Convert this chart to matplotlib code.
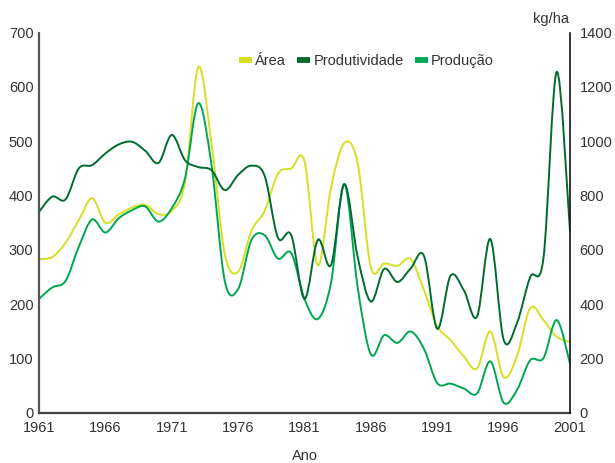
import numpy as np
import matplotlib
matplotlib.use("Agg")
import matplotlib.pyplot as plt
from matplotlib.path import Path
from matplotlib.patches import PathPatch
from matplotlib.lines import Line2D

plt.rcParams['font.family'] = ['Liberation Sans', 'DejaVu Sans']

years = list(range(1961, 2002))
area = [283, 287, 313, 355, 395, 350, 365, 378, 383, 366,
        372, 425, 636, 495, 292, 260, 335, 372, 440, 450,
        463, 272, 415, 497, 460, 268, 275, 271, 283, 226,
        160, 134, 104, 82, 150, 66, 104, 193, 171, 140,
        131]
producao = [210, 231, 243, 306, 356, 332, 358, 373, 380, 352,
            377, 432, 570, 455, 242, 228, 318, 327, 284, 294,
            210, 173, 240, 421, 232, 108, 143, 129, 150, 118,
            55, 54, 45, 36, 95, 19, 42, 97, 101, 171,
            91]
produtividade = [740, 796, 786, 900, 912, 955, 988, 998, 965, 920,
                 1023, 930, 905, 893, 820, 876, 910, 872, 645, 655,
                 420, 637, 545, 842, 575, 410, 530, 482, 532, 578,
                 310, 505, 452, 355, 640, 270, 330, 500, 570, 1255,
                 670]
xticks = [1961, 1966, 1971, 1976, 1981, 1986, 1991, 1996, 2001]
left_ticks = [0, 100, 200, 300, 400, 500, 600, 700]
right_ticks = [0, 200, 400, 600, 800, 1000, 1200, 1400]
labels = ['Área', 'Produtividade', 'Produção']
colors = ['#d7df23', '#006b2e', '#00a651']

assert len(area) == len(years) == len(producao) == len(produtividade)


def smooth_path(x, y):
    x = np.asarray(x, float)
    y = np.asarray(y, float)
    n = len(x)
    verts = [(x[0], y[0])]
    codes = [Path.MOVETO]
    for i in range(n - 1):
        i0 = max(i - 1, 0)
        i3 = min(i + 2, n - 1)
        c1 = (x[i] + (x[i + 1] - x[i0]) / 6, y[i] + (y[i + 1] - y[i0]) / 6)
        c2 = (x[i + 1] - (x[i3] - x[i]) / 6, y[i + 1] - (y[i3] - y[i]) / 6)
        verts += [c1, c2, (x[i + 1], y[i + 1])]
        codes += [Path.CURVE4] * 3
    return Path(verts, codes)


fs = 10.5
fig = plt.figure(figsize=(6.15, 4.63), dpi=100)
ax = fig.add_axes([39 / 615, 1 - 413 / 463, 531 / 615, 380.5 / 463])
ax2 = ax.twinx()

lw = 1.4
ax.add_patch(PathPatch(smooth_path(years, area), fill=False, edgecolor=colors[0], lw=lw))
ax.add_patch(PathPatch(smooth_path(years, producao), fill=False, edgecolor=colors[2], lw=lw))
ax2.add_patch(PathPatch(smooth_path(years, produtividade), fill=False, edgecolor=colors[1], lw=lw))

ax.set_xlim(1961, 2001)
ax.set_ylim(0, 700)
ax2.set_ylim(0, 1400)
ax.set_xticks(xticks)
ax.set_yticks(left_ticks)
ax2.set_yticks(right_ticks)

txtc = '#333333'
for a in (ax, ax2):
    a.spines['top'].set_visible(False)
    a.tick_params(length=0, labelsize=fs, colors=txtc)
ax.tick_params(axis='y', pad=4)
ax.tick_params(axis='x', pad=6)
ax2.tick_params(axis='y', pad=7)
ax.spines['left'].set_color('#555555')
ax.spines['left'].set_linewidth(1.6)
ax.spines['bottom'].set_color('#444444')
ax.spines['bottom'].set_linewidth(1.6)
ax.spines['right'].set_visible(False)
ax2.spines['left'].set_visible(False)
ax2.spines['bottom'].set_visible(False)
ax2.spines['right'].set_color('#111111')
ax2.spines['right'].set_linewidth(1.2)

fig.text(569 / 615, 1 - 19 / 463, 'kg/ha', ha='right', va='center', fontsize=fs, color=txtc)
fig.text(305 / 615, 1 - 456 / 463, 'Ano', ha='center', va='center', fontsize=fs, color=txtc)

handles = [Line2D([0], [0], color=c, lw=4.2, solid_capstyle='butt') for c in colors]
fig.legend(handles, labels, loc='center left', bbox_to_anchor=(239 / 615, 1 - 61 / 463),
           ncol=3, frameon=False, fontsize=fs, handlelength=0.86, handletextpad=0.24,
           columnspacing=0.78, borderpad=0, borderaxespad=0, labelcolor=txtc)

fig.savefig('out.png', dpi=100)
